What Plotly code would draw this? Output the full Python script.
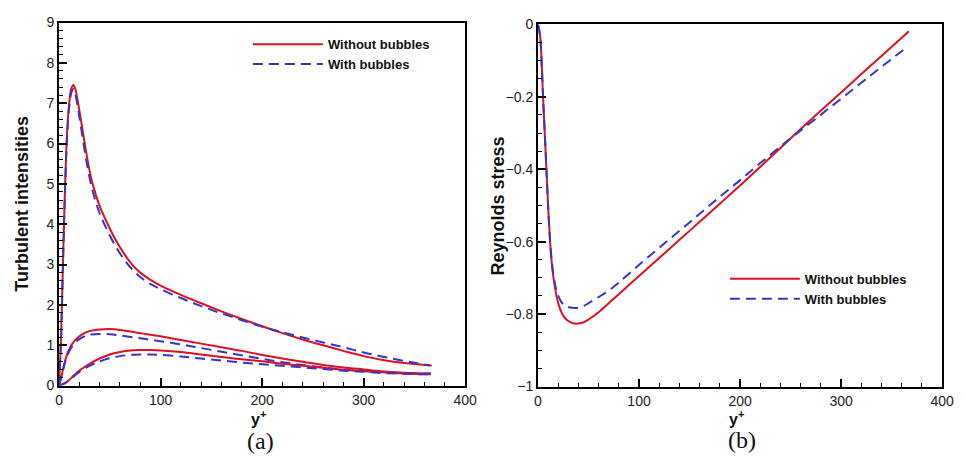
import plotly.graph_objects as go

# ---------------- data: panel (a) turbulent intensities ----------------
ya_x_top_red = [0, 2, 4, 6, 8, 10, 12, 14, 16, 18, 20, 24, 28, 32, 36, 40, 48, 56, 64, 72, 80,
                90, 100, 120, 140, 160, 180, 200, 220, 240, 260, 280, 300, 320, 340, 367]
ya_top_red = [0, 1.2, 3.2, 5.0, 6.3, 7.0, 7.35, 7.45, 7.35, 7.12, 6.82, 6.2, 5.6, 5.1, 4.75,
              4.45, 4.0, 3.6, 3.27, 3.0, 2.8, 2.62, 2.48, 2.25, 2.04, 1.84, 1.65, 1.47, 1.3, 1.14,
              1.0, 0.86, 0.73, 0.63, 0.56, 0.5]
ya_x_top_blue = [0, 2, 4, 6, 8, 10, 12, 14, 16, 18, 20, 24, 28, 32, 36, 40, 48, 56, 64, 72, 80,
                 90, 100, 120, 140, 160, 180, 200, 220, 240, 260, 280, 300, 320, 340, 365]
ya_top_blue = [0, 1.15, 3.1, 4.9, 6.2, 6.9, 7.25, 7.35, 7.22, 6.98, 6.66, 6.02, 5.42, 4.93,
               4.57, 4.27, 3.82, 3.44, 3.13, 2.88, 2.69, 2.52, 2.39, 2.17, 1.97, 1.79, 1.62, 1.46,
               1.32, 1.19, 1.07, 0.95, 0.82, 0.71, 0.61, 0.5]

ya_x_mid = [0, 3, 6, 10, 15, 20, 25, 30, 40, 50, 60, 80, 100, 120, 140, 160, 180, 200, 220, 240,
            260, 280, 300, 320, 340, 366]
ya_mid_red = [0, 0.3, 0.62, 0.9, 1.1, 1.22, 1.3, 1.35, 1.39, 1.4, 1.38, 1.3, 1.22, 1.13, 1.04,
              0.95, 0.86, 0.76, 0.67, 0.59, 0.51, 0.45, 0.4, 0.35, 0.32, 0.3]
ya_mid_blue = [0, 0.28, 0.58, 0.85, 1.04, 1.15, 1.22, 1.26, 1.28, 1.27, 1.24, 1.17, 1.1, 1.02,
               0.93, 0.84, 0.75, 0.66, 0.58, 0.51, 0.45, 0.4, 0.36, 0.33, 0.31, 0.3]

ya_x_low = [0, 5, 10, 15, 20, 25, 30, 40, 50, 60, 70, 80, 90, 100, 120, 140, 160, 180, 200, 220,
            240, 260, 280, 300, 320, 340, 366]
ya_low_red = [0, 0.05, 0.14, 0.26, 0.37, 0.46, 0.54, 0.67, 0.77, 0.83, 0.87, 0.88, 0.88, 0.87,
              0.83, 0.77, 0.71, 0.65, 0.6, 0.54, 0.49, 0.44, 0.39, 0.36, 0.33, 0.3, 0.28]
ya_low_blue = [0, 0.05, 0.13, 0.24, 0.34, 0.42, 0.49, 0.6, 0.68, 0.73, 0.76, 0.77, 0.77, 0.76,
               0.72, 0.67, 0.62, 0.57, 0.53, 0.49, 0.45, 0.41, 0.37, 0.34, 0.31, 0.29, 0.28]

# ---------------- data: panel (b) Reynolds stress ----------------
yb_x_red = [0, 2, 4, 5, 6, 8, 10, 12, 14, 17, 20, 24, 28, 32, 36, 40, 45, 50, 60, 70, 80, 100,
            120, 140, 160, 180, 200, 220, 240, 260, 280, 300, 320, 340, 360, 367]
yb_red = [0, -0.03, -0.13, -0.2, -0.26, -0.38, -0.5, -0.6, -0.67, -0.73, -0.77, -0.8, -0.815,
          -0.822, -0.826, -0.826, -0.823, -0.815, -0.795, -0.77, -0.745, -0.695, -0.645, -0.595,
          -0.545, -0.495, -0.445, -0.393, -0.341, -0.289, -0.238, -0.188, -0.137, -0.087,
          -0.037, -0.019]
yb_x_blue = [0, 2, 4, 5, 6, 8, 10, 12, 14, 17, 20, 24, 28, 32, 36, 40, 45, 50, 60, 70, 80, 100,
             120, 140, 160, 180, 200, 220, 240, 250, 260, 280, 300, 320, 340, 365]
yb_blue = [0, -0.03, -0.13, -0.2, -0.26, -0.38, -0.5, -0.6, -0.665, -0.72, -0.75, -0.77, -0.778,
           -0.782, -0.783, -0.782, -0.778, -0.77, -0.753, -0.735, -0.713, -0.664, -0.617, -0.57,
           -0.523, -0.476, -0.43, -0.383, -0.337, -0.315, -0.293, -0.249, -0.205, -0.161, -0.117,
           -0.063]

NAME_RED = "Without bubbles"
NAME_BLUE = "With bubbles"
RED = "#e01020"
BLUE = "#3535cc"

fig = go.Figure()


def add(x, y, kind, xa, ya, legend, show):
    if kind == "red":
        line = dict(color=RED, width=2)
        name = NAME_RED
    else:
        line = dict(color=BLUE, width=2, dash="10px,6px")
        name = NAME_BLUE
    fig.add_trace(go.Scatter(x=x, y=y, mode="lines", line=line, name=name, xaxis=xa, yaxis=ya,
                             legend=legend, showlegend=show, line_shape="spline",
                             hoverinfo="skip"))


add(ya_x_top_red, ya_top_red, "red", "x", "y", "legend", True)
add(ya_x_top_blue, ya_top_blue, "blue", "x", "y", "legend", True)
add(ya_x_mid, ya_mid_red, "red", "x", "y", "legend", False)
add(ya_x_mid, ya_mid_blue, "blue", "x", "y", "legend", False)
add(ya_x_low, ya_low_red, "red", "x", "y", "legend", False)
add(ya_x_low, ya_low_blue, "blue", "x", "y", "legend", False)
add(yb_x_red, yb_red, "red", "x2", "y2", "legend2", True)
add(yb_x_blue, yb_blue, "blue", "x2", "y2", "legend2", True)

SANS = "Liberation Sans, Arial, sans-serif"
tickfont = dict(family=SANS, size=14, color="#222")
common = dict(showline=True, linecolor="black", linewidth=2, mirror=True, ticks="inside",
              ticklen=8, tickwidth=2, tickcolor="black", showgrid=False, zeroline=False,
              tickfont=tickfont)
minor = dict(ticks="inside", ticklen=4, tickwidth=1, tickcolor="black", showgrid=False)
legfont = dict(family=SANS, size=13, color="#111", weight="bold")

fig.update_layout(
    width=965, height=465, margin=dict(l=0, r=0, t=0, b=0),
    paper_bgcolor="white", plot_bgcolor="white",
    xaxis=dict(domain=[0.0580, 0.4860], range=[0, 400], dtick=100, anchor="y",
               ticklabelstandoff=1, minor=dict(dtick=20, **minor), **common),
    yaxis=dict(domain=[0.1591, 0.9677], range=[0, 9], dtick=1, anchor="x",
               minor=dict(dtick=0.2, **minor), **common),
    xaxis2=dict(domain=[0.5627, 0.9886], range=[0, 400], dtick=100, anchor="y2",
                ticklabelstandoff=1, minor=dict(dtick=20, **minor), **common),
    yaxis2=dict(domain=[0.1570, 0.9634], range=[-1, 0], dtick=0.2, anchor="x2",
                minor=dict(dtick=0.05, **minor), **common),
    legend=dict(x=248 / 965, y=1 - 22 / 465, xanchor="left", yanchor="top",
                bgcolor="rgba(0,0,0,0)", itemwidth=70, tracegroupgap=0, font=legfont),
    legend2=dict(x=733 / 965, y=1 - 265 / 465, xanchor="left", yanchor="top",
                 bgcolor="rgba(0,0,0,0)", itemwidth=70, tracegroupgap=0, font=legfont),
)

title_font = dict(family=SANS, size=18, color="#111")
yplus_font = dict(family=SANS, size=16, color="#111")
cap_font = dict(family="Liberation Serif, Times New Roman, serif", size=24, color="#111")
annots = [
    dict(text="<b>Turbulent intensities</b>", x=18 / 965, y=1 - 203 / 465, textangle=-90,
         font=title_font),
    dict(text="<b>Reynolds stress</b>", x=502 / 965, y=1 - 205 / 465, textangle=-90,
         font=title_font),
    dict(text="<b>y<sup>+</sup></b>", x=259 / 965, y=1 - 425 / 465, font=yplus_font),
    dict(text="<b>y<sup>+</sup></b>", x=745 / 965, y=1 - 425 / 465, font=yplus_font),
    dict(text="(a)", x=261 / 965, y=1 - 448 / 465, font=cap_font),
    dict(text="(b)", x=750 / 965, y=1 - 447 / 465, font=cap_font),
]
for a in annots:
    fig.add_annotation(xref="paper", yref="paper", showarrow=False, xanchor="center",
                       yanchor="middle", borderpad=0, **a)

fig.write_html("out.html")
